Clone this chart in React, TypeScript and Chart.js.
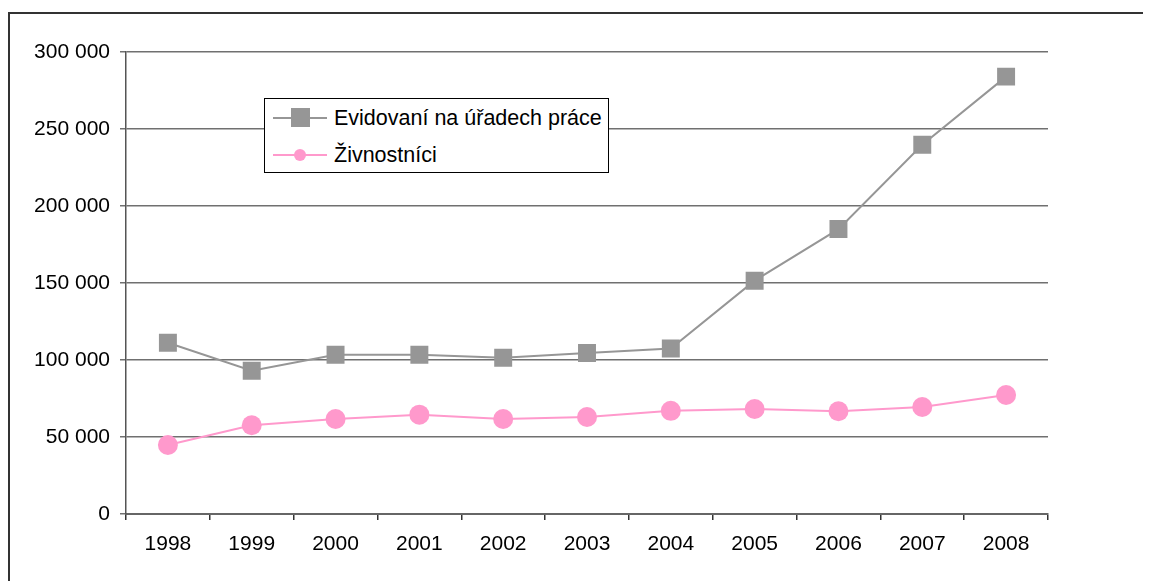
import React, { useEffect, useRef } from "react";
import { Chart, registerables } from "chart.js";

Chart.register(...registerables);

const years = ["1998", "1999", "2000", "2001", "2002", "2003", "2004", "2005", "2006", "2007", "2008"];
const evidovani = [111200, 93000, 103400, 103400, 101500, 104500, 107500, 151500, 185000, 239800, 284000];
const zivnostnici = [44800, 57600, 61700, 64500, 61700, 63000, 67000, 68200, 66700, 69500, 77300];
const seriesNames = ["Evidovaní na úřadech práce", "Živnostníci"];

const GRAY = "#969696";
const PINK = "#FF99CC";
const FONT = "'Liberation Sans', Arial, sans-serif";

function fmt(v: number): string {
  return String(v).replace(/\B(?=(\d{3})+(?!\d))/g, " ");
}

export default function App() {
  const ref = useRef<HTMLCanvasElement | null>(null);

  useEffect(() => {
    if (!ref.current) return;
    const chart = new Chart(ref.current, {
      type: "line",
      data: {
        labels: years,
        datasets: [
          {
            label: seriesNames[0],
            data: evidovani,
            borderColor: GRAY,
            backgroundColor: GRAY,
            borderWidth: 2,
            pointStyle: "rect",
            pointRadius: 12.7,
            pointBorderWidth: 0,
            tension: 0,
          },
          {
            label: seriesNames[1],
            data: zivnostnici,
            borderColor: PINK,
            backgroundColor: PINK,
            borderWidth: 2,
            pointStyle: "circle",
            pointRadius: 10,
            pointBorderWidth: 0,
            tension: 0,
          },
        ],
      },
      options: {
        animation: false,
        responsive: false,
        maintainAspectRatio: false,
        layout: { padding: { left: 0, right: 103, top: 44, bottom: 17 } },
        plugins: { legend: { display: false }, tooltip: { enabled: false } },
        scales: {
          x: {
            offset: true,
            grid: {
              offset: true,
              drawOnChartArea: false,
              drawTicks: true,
              tickLength: 6,
              color: "#333",
              lineWidth: 1.5,
            },
            border: { color: "#666", width: 2 },
            ticks: { color: "#000", font: { family: FONT, size: 21 }, padding: 12, maxRotation: 0 },
            afterFit: (s: any) => {
              s.height = 50;
            },
          },
          y: {
            min: 0,
            max: 300000,
            grid: { color: "#707070", lineWidth: 1.5, tickLength: 6, drawTicks: true },
            border: { color: "#555", width: 1.5 },
            ticks: {
              stepSize: 50000,
              color: "#000",
              font: { family: FONT, size: 21 },
              padding: 10,
              callback: (v: any) => fmt(Number(v)),
            },
            afterFit: (s: any) => {
              s.width = 118;
            },
          },
        },
      },
    });
    return () => chart.destroy();
  }, []);

  const row = (top: number, color: string, square: boolean, text: string) => (
    <div style={{ position: "absolute", left: 0, top: top - 15, height: 30, width: 340 }}>
      <div style={{ position: "absolute", left: 8, top: 14, width: 54, height: 2, background: color }} />
      <div
        style={{
          position: "absolute",
          left: square ? 35 - 9.5 : 35 - 6,
          top: square ? 15 - 9.5 : 15 - 6,
          width: square ? 19 : 12,
          height: square ? 19 : 12,
          background: color,
          borderRadius: square ? 0 : "50%",
        }}
      />
      <div
        style={{
          position: "absolute",
          left: 69,
          top: 0,
          height: 30,
          lineHeight: "30px",
          fontFamily: FONT,
          fontSize: 21.5,
          color: "#000",
          whiteSpace: "nowrap",
        }}
      >
        {text}
      </div>
    </div>
  );

  return (
    <div style={{ position: "relative", width: 1143, height: 573, overflow: "hidden" }}>
      <div
        style={{
          position: "absolute",
          left: 0,
          top: 4,
          right: -10,
          bottom: -10,
          borderTop: "2px solid #333",
          borderLeft: "2px solid #333",
        }}
      />
      <canvas ref={ref} width={1143} height={573} style={{ position: "absolute", left: 0, top: 0 }} />
      <div
        style={{
          position: "absolute",
          left: 256,
          top: 90,
          width: 343,
          height: 73,
          border: "1px solid #000",
          background: "#fff",
        }}
      >
        {row(18.7, GRAY, true, seriesNames[0])}
        {row(56, PINK, false, seriesNames[1])}
      </div>
    </div>
  );
}
